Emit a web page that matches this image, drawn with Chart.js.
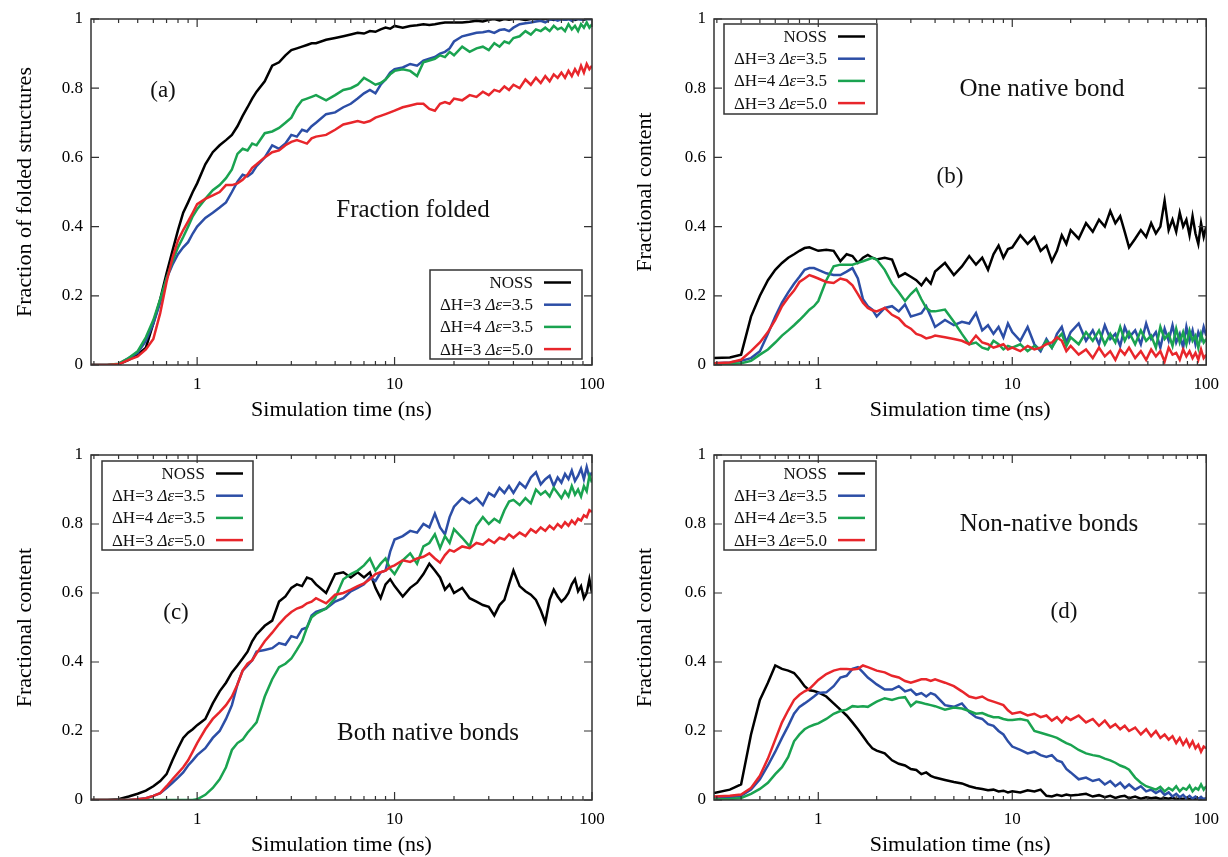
<!DOCTYPE html>
<html>
<head>
<meta charset="utf-8">
<title></title>
<style>
  body { margin: 0; background: #fff; }
  #wrap { position: relative; width: 1228px; height: 857px; background: #fff; }
  canvas { position: absolute; }
</style>
</head>
<body>
<div id="wrap">
  <canvas id="chartA" width="614" height="428" style="left:0;top:0"></canvas>
  <canvas id="chartB" width="614" height="428" style="left:614px;top:0"></canvas>
  <canvas id="chartC" width="614" height="429" style="left:0;top:428px"></canvas>
  <canvas id="chartD" width="614" height="429" style="left:614px;top:428px"></canvas>
</div>

<script src="https://cdn.jsdelivr.net/npm/chart.js"></script>

<script>
  // simulation time (ns), shared by all panels
  const times = [0.29,0.35,0.4,0.45,0.5,0.55,0.6,0.65,0.7,0.75,0.8,0.85,0.9,0.95,1.0,
    1.1,1.2,1.3,1.4,1.5,1.6,1.7,1.8,1.9,2.0,
    2.2,2.4,2.6,2.8,3.0,3.2,3.4,3.6,3.8,4.0,
    4.5,5,5.5,6,6.5,7,7.5,8,8.5,9,9.5,10,
    11,12,13,14,15,16,17,18,19,20,
    22,24,26,28,30,32,34,36,38,40,
    43,46,49,52,55,58,61,64,67,70,73,76,79,82,85,88,91,94,97,100];

  const seriesLabels = ['NOSS', 'ΔH=3 Δε=3.5', 'ΔH=4 Δε=3.5', 'ΔH=3 Δε=5.0'];
  const seriesColors = ['#000000', '#2c4ea6', '#1aa350', '#e8262b'];
  const xTickLabels = [1, 10, 100];
  const yTickLabels = [0, 0.2, 0.4, 0.6, 0.8, 1];

  // (a) fraction folded
  const foldedNoss = [0,0,0.002,0.015,0.03,0.05,0.12,0.19,0.265,0.33,0.39,0.44,0.47,0.50,0.525,
    0.58,0.615,0.635,0.65,0.665,0.69,0.72,0.745,0.77,0.79,
    0.82,0.865,0.875,0.895,0.91,0.915,0.92,0.925,0.93,0.93,
    0.94,0.945,0.95,0.955,0.96,0.958,0.965,0.963,0.97,0.975,0.972,0.98,
    0.975,0.98,0.982,0.985,0.983,0.985,0.988,0.99,0.99,0.99,
    0.99,0.992,0.995,0.993,0.998,1.0,0.996,1.0,0.998,1.0,
    1.0,0.997,1.0,1.0,0.998,1.0,1.0,0.997,1.0,1.0,0.998,1.0,1.0,0.997,1.0,1.0,0.998,1.0,1.0,1.0];
  const foldedH3e35 = [0,0,0.003,0.02,0.035,0.07,0.12,0.18,0.25,0.29,0.32,0.34,0.355,0.38,0.40,
    0.425,0.44,0.455,0.47,0.50,0.53,0.55,0.545,0.555,0.575,
    0.60,0.635,0.625,0.64,0.665,0.66,0.68,0.675,0.69,0.70,
    0.725,0.73,0.745,0.755,0.77,0.785,0.795,0.785,0.81,0.825,0.845,0.855,
    0.86,0.87,0.865,0.88,0.885,0.89,0.90,0.905,0.915,0.935,
    0.95,0.955,0.96,0.962,0.965,0.96,0.968,0.97,0.965,0.975,
    0.985,0.988,0.99,0.993,0.995,0.99,0.998,1.0,0.995,1.0,0.998,1.0,0.995,1.0,1.0,0.998,1.0,1.0,1.0,1.0];
  const foldedH4e35 = [0,0,0.004,0.02,0.04,0.08,0.13,0.19,0.25,0.30,0.34,0.37,0.40,0.43,0.45,
    0.48,0.505,0.52,0.54,0.565,0.61,0.625,0.62,0.64,0.635,
    0.67,0.675,0.685,0.70,0.715,0.745,0.765,0.77,0.775,0.78,
    0.765,0.78,0.795,0.80,0.81,0.83,0.82,0.81,0.815,0.825,0.84,0.85,
    0.855,0.85,0.835,0.875,0.88,0.885,0.895,0.89,0.905,0.895,
    0.92,0.905,0.915,0.92,0.91,0.93,0.92,0.935,0.93,0.945,
    0.95,0.965,0.955,0.97,0.965,0.975,0.965,0.98,0.97,0.975,0.965,0.985,0.97,0.98,0.965,0.985,0.975,0.99,0.975,0.985];
  const foldedH3e50 = [0,0,0.002,0.015,0.025,0.045,0.075,0.15,0.24,0.31,0.36,0.39,0.415,0.44,0.465,
    0.48,0.49,0.50,0.52,0.52,0.525,0.535,0.55,0.57,0.58,
    0.60,0.615,0.62,0.635,0.645,0.65,0.645,0.64,0.655,0.66,
    0.665,0.68,0.695,0.70,0.705,0.70,0.705,0.715,0.72,0.725,0.73,0.735,
    0.745,0.75,0.755,0.755,0.74,0.735,0.755,0.76,0.755,0.77,
    0.765,0.78,0.775,0.79,0.78,0.795,0.79,0.805,0.795,0.81,
    0.80,0.825,0.81,0.83,0.815,0.835,0.82,0.84,0.83,0.845,0.83,0.85,0.835,0.855,0.84,0.865,0.845,0.87,0.855,0.865];

  // (b) one native bond
  const oneNoss = [0.02,0.022,0.03,0.14,0.20,0.245,0.275,0.295,0.31,0.32,0.33,0.338,0.34,0.335,0.33,
    0.333,0.33,0.30,0.32,0.315,0.295,0.31,0.318,0.31,0.305,
    0.31,0.305,0.255,0.265,0.255,0.245,0.23,0.25,0.235,0.27,
    0.295,0.26,0.285,0.315,0.29,0.31,0.275,0.32,0.345,0.31,0.335,0.34,
    0.375,0.35,0.37,0.33,0.345,0.30,0.33,0.375,0.35,0.39,
    0.365,0.41,0.385,0.42,0.40,0.445,0.41,0.43,0.385,0.34,
    0.365,0.39,0.37,0.41,0.38,0.40,0.475,0.39,0.42,0.385,0.44,0.40,0.42,0.375,0.43,0.38,0.35,0.41,0.37,0.40];
  const oneH3e35 = [0.005,0.007,0.012,0.02,0.04,0.09,0.14,0.18,0.21,0.235,0.255,0.275,0.28,0.28,0.275,
    0.265,0.26,0.26,0.27,0.28,0.25,0.19,0.17,0.16,0.14,
    0.165,0.17,0.155,0.175,0.14,0.145,0.15,0.17,0.14,0.11,
    0.13,0.115,0.125,0.12,0.15,0.10,0.115,0.09,0.11,0.08,0.12,0.095,
    0.07,0.11,0.06,0.04,0.075,0.05,0.09,0.11,0.065,0.095,
    0.12,0.07,0.10,0.06,0.115,0.075,0.09,0.055,0.11,0.08,
    0.10,0.06,0.12,0.075,0.095,0.05,0.105,0.07,0.115,0.065,0.09,0.05,0.11,0.07,0.10,0.06,0.095,0.075,0.11,0.085];
  const oneH4e35 = [0.002,0.003,0.005,0.012,0.03,0.045,0.065,0.085,0.10,0.115,0.13,0.145,0.16,0.17,0.185,
    0.245,0.285,0.29,0.29,0.29,0.295,0.30,0.305,0.31,0.305,
    0.275,0.235,0.21,0.185,0.205,0.22,0.19,0.165,0.155,0.155,
    0.16,0.125,0.09,0.06,0.065,0.05,0.045,0.07,0.06,0.045,0.055,0.05,
    0.06,0.04,0.055,0.045,0.07,0.05,0.075,0.09,0.055,0.08,
    0.06,0.095,0.07,0.10,0.06,0.09,0.065,0.11,0.07,0.095,
    0.06,0.10,0.07,0.085,0.05,0.11,0.075,0.09,0.055,0.105,0.065,0.095,0.06,0.10,0.07,0.085,0.05,0.09,0.065,0.075];
  const oneH3e50 = [0.005,0.007,0.015,0.04,0.065,0.095,0.13,0.17,0.195,0.215,0.24,0.25,0.26,0.255,0.25,
    0.24,0.237,0.25,0.245,0.23,0.205,0.18,0.165,0.158,0.155,
    0.165,0.145,0.135,0.115,0.105,0.09,0.085,0.077,0.08,0.085,
    0.08,0.075,0.07,0.06,0.085,0.065,0.06,0.05,0.055,0.06,0.045,0.05,
    0.04,0.055,0.045,0.05,0.06,0.065,0.08,0.07,0.04,0.055,
    0.03,0.045,0.02,0.05,0.025,0.04,0.015,0.045,0.03,0.05,
    0.02,0.04,0.015,0.045,0.025,0.04,0.01,0.05,0.03,0.035,0.015,0.045,0.025,0.04,0.02,0.035,0.015,0.045,0.02,0.03];

  // (c) both native bonds
  const bothNoss = [0,0,0.002,0.01,0.018,0.027,0.04,0.055,0.075,0.115,0.15,0.18,0.195,0.205,0.217,
    0.235,0.28,0.315,0.34,0.37,0.39,0.41,0.43,0.46,0.48,
    0.505,0.52,0.575,0.59,0.615,0.625,0.62,0.645,0.64,0.625,
    0.60,0.655,0.66,0.645,0.66,0.645,0.66,0.615,0.585,0.625,0.64,0.62,
    0.59,0.615,0.63,0.655,0.685,0.665,0.645,0.61,0.625,0.60,
    0.615,0.585,0.575,0.565,0.56,0.535,0.565,0.58,0.625,0.665,
    0.62,0.605,0.595,0.58,0.55,0.515,0.58,0.61,0.59,0.575,0.585,0.60,0.625,0.64,0.605,0.62,0.585,0.60,0.64,0.60];
  const bothH3e35 = [0,0,0,0,0.002,0.005,0.012,0.02,0.035,0.05,0.065,0.08,0.10,0.115,0.13,
    0.15,0.18,0.20,0.235,0.275,0.335,0.375,0.39,0.405,0.43,
    0.435,0.44,0.455,0.45,0.475,0.47,0.495,0.50,0.535,0.545,
    0.555,0.575,0.585,0.605,0.615,0.625,0.645,0.635,0.66,0.665,0.72,0.755,
    0.765,0.78,0.775,0.80,0.79,0.83,0.79,0.77,0.82,0.85,
    0.875,0.86,0.875,0.855,0.89,0.88,0.905,0.89,0.91,0.89,
    0.92,0.905,0.935,0.95,0.915,0.93,0.94,0.91,0.935,0.92,0.945,0.93,0.955,0.925,0.94,0.96,0.93,0.965,0.935,0.95];
  const bothH4e35 = [0,0,0,0,0,0,0,0,0,0,0,0,0,0,0.002,
    0.015,0.035,0.06,0.095,0.145,0.165,0.175,0.195,0.21,0.225,
    0.30,0.35,0.385,0.395,0.41,0.435,0.46,0.50,0.53,0.54,
    0.555,0.585,0.64,0.655,0.665,0.68,0.70,0.665,0.685,0.70,0.67,0.655,
    0.695,0.715,0.685,0.735,0.745,0.77,0.73,0.765,0.745,0.785,
    0.76,0.735,0.795,0.82,0.80,0.815,0.805,0.84,0.865,0.87,
    0.855,0.875,0.86,0.90,0.885,0.895,0.88,0.905,0.89,0.875,0.895,0.88,0.91,0.885,0.90,0.88,0.91,0.895,0.94,0.92];
  const bothH3e50 = [0,0,0,0,0.002,0.005,0.012,0.02,0.04,0.06,0.078,0.095,0.115,0.14,0.165,
    0.205,0.235,0.255,0.275,0.30,0.335,0.375,0.395,0.405,0.425,
    0.46,0.485,0.51,0.53,0.545,0.555,0.56,0.57,0.575,0.585,
    0.57,0.595,0.60,0.61,0.62,0.628,0.64,0.655,0.66,0.665,0.675,0.68,
    0.695,0.69,0.70,0.705,0.715,0.70,0.688,0.71,0.725,0.72,
    0.735,0.73,0.745,0.74,0.755,0.745,0.76,0.755,0.77,0.76,
    0.775,0.765,0.785,0.775,0.79,0.78,0.795,0.785,0.80,0.79,0.805,0.795,0.81,0.80,0.815,0.81,0.825,0.82,0.84,0.835];

  // (d) non-native bonds
  const nonNoss = [0.02,0.03,0.045,0.19,0.29,0.34,0.39,0.38,0.375,0.368,0.35,0.33,0.318,0.316,0.312,
    0.30,0.28,0.262,0.245,0.225,0.205,0.185,0.165,0.15,0.143,
    0.135,0.115,0.105,0.10,0.09,0.087,0.075,0.08,0.07,0.065,
    0.058,0.052,0.048,0.04,0.035,0.032,0.028,0.03,0.025,0.027,0.022,0.025,
    0.022,0.028,0.025,0.03,0.012,0.01,0.015,0.012,0.016,0.013,
    0.015,0.018,0.01,0.014,0.008,0.012,0.006,0.01,0.012,0.005,
    0.01,0.004,0.008,0.005,0.007,0.003,0.006,0.004,0.007,0.002,0.005,0.003,0.006,0.001,0.004,0.002,0.005,0.001,0.003,0.002];
  const nonH3e35 = [0.005,0.007,0.012,0.03,0.06,0.10,0.14,0.18,0.215,0.25,0.27,0.28,0.29,0.30,0.31,
    0.312,0.33,0.355,0.36,0.38,0.385,0.37,0.355,0.345,0.335,
    0.32,0.32,0.33,0.315,0.32,0.305,0.31,0.30,0.31,0.305,
    0.275,0.27,0.28,0.255,0.24,0.235,0.22,0.215,0.20,0.19,0.17,0.155,
    0.145,0.135,0.14,0.13,0.125,0.13,0.115,0.11,0.09,0.08,
    0.06,0.065,0.055,0.06,0.045,0.055,0.04,0.05,0.035,0.045,
    0.03,0.04,0.025,0.03,0.02,0.028,0.015,0.022,0.01,0.018,0.008,0.015,0.005,0.012,0.004,0.01,0.003,0.009,0.002,0.006];
  const nonH4e35 = [0.002,0.003,0.006,0.018,0.032,0.05,0.075,0.095,0.125,0.17,0.19,0.205,0.213,0.218,0.222,
    0.235,0.25,0.258,0.262,0.272,0.27,0.272,0.27,0.278,0.285,
    0.295,0.29,0.296,0.298,0.272,0.285,0.282,0.278,0.275,0.272,
    0.262,0.268,0.265,0.258,0.25,0.252,0.245,0.24,0.24,0.235,0.232,0.232,
    0.235,0.23,0.20,0.195,0.19,0.185,0.18,0.172,0.165,0.16,
    0.145,0.135,0.13,0.127,0.12,0.115,0.108,0.10,0.095,0.088,
    0.065,0.05,0.04,0.035,0.03,0.038,0.025,0.035,0.028,0.04,0.025,0.035,0.03,0.042,0.025,0.035,0.03,0.045,0.03,0.04];
  const nonH3e50 = [0.01,0.012,0.016,0.035,0.07,0.12,0.175,0.225,0.26,0.29,0.305,0.315,0.322,0.335,0.348,
    0.365,0.375,0.38,0.38,0.378,0.38,0.39,0.385,0.38,0.375,
    0.37,0.36,0.355,0.345,0.34,0.345,0.35,0.35,0.345,0.35,
    0.34,0.33,0.315,0.30,0.295,0.30,0.29,0.285,0.28,0.275,0.26,0.25,
    0.255,0.245,0.25,0.24,0.245,0.23,0.24,0.225,0.24,0.232,
    0.245,0.225,0.235,0.215,0.23,0.21,0.22,0.205,0.215,0.20,
    0.21,0.19,0.205,0.185,0.20,0.18,0.19,0.175,0.185,0.165,0.18,0.16,0.175,0.155,0.17,0.15,0.16,0.14,0.155,0.15];

  const serif = "'Liberation Serif', 'Times New Roman', serif";

  function sameValue(a, b) { return Math.abs(a - b) < 1e-9 * Math.max(1, b); }

  // legend text: the Δε part is italic
  function drawLabel(ctx, text, xRight, y) {
    const k = text.indexOf('Δε');
    const parts = k < 0 ? [[text, false]] : [[text.slice(0, k), false], ['Δε', true], [text.slice(k + 2), false]];
    let w = 0;
    parts.forEach(([s, it]) => { ctx.font = (it ? 'italic ' : '') + '17px ' + serif; w += ctx.measureText(s).width; });
    let x = xRight - w;
    ctx.textAlign = 'left';
    parts.forEach(([s, it]) => {
      ctx.font = (it ? 'italic ' : '') + '17px ' + serif;
      ctx.fillText(s, x, y);
      x += ctx.measureText(s).width;
    });
  }

  // frame, inward ticks, notes and boxed legend
  function decor(texts, box) {
    return {
      id: 'decor',
      afterDraw(chart) {
        const {ctx, chartArea: a, scales: {x, y}} = chart;
        ctx.save();
        ctx.strokeStyle = '#333';
        ctx.lineWidth = 1.2;
        ctx.beginPath();
        x.ticks.forEach(t => {
          const v = t.value;
          const e = Math.floor(Math.log10(v) + 1e-9);
          const d = v / Math.pow(10, e);
          if (Math.abs(d - Math.round(d)) > 1e-6) return;
          const len = Math.round(d) === 1 ? 8 : 4;
          const px = x.getPixelForValue(v);
          ctx.moveTo(px, a.bottom); ctx.lineTo(px, a.bottom - len);
          ctx.moveTo(px, a.top); ctx.lineTo(px, a.top + len);
        });
        yTickLabels.forEach(v => {
          const py = y.getPixelForValue(v);
          ctx.moveTo(a.left, py); ctx.lineTo(a.left + 8, py);
          ctx.moveTo(a.right, py); ctx.lineTo(a.right - 8, py);
        });
        ctx.stroke();
        ctx.lineWidth = 1.5;
        ctx.strokeRect(a.left, a.top, a.right - a.left, a.bottom - a.top);

        ctx.fillStyle = '#111';
        ctx.textAlign = 'center';
        ctx.textBaseline = 'middle';
        texts.forEach(t => {
          ctx.font = t.size + 'px ' + serif;
          ctx.fillText(t.text, t.x, t.y);
        });

        ctx.strokeStyle = '#333';
        ctx.lineWidth = 1.5;
        ctx.strokeRect(box.x, box.y, box.w, box.h);
        chart.data.datasets.forEach((ds, i) => {
          const ry = box.y + 12.5 + i * 22.2;
          ctx.fillStyle = '#111';
          drawLabel(ctx, ds.label, box.x + 103, ry + 1);
          ctx.strokeStyle = ds.borderColor;
          ctx.lineWidth = 2.5;
          ctx.beginPath();
          ctx.moveTo(box.x + 114, ry); ctx.lineTo(box.x + 141, ry);
          ctx.stroke();
        });
        ctx.restore();
      }
    };
  }

  function buildPanel(id, values, yTitle, lay, texts) {
    const datasets = values.map((vals, i) => ({
      label: seriesLabels[i],
      data: times.map((t, k) => ({x: t, y: vals[k]})),
      borderColor: seriesColors[i],
      borderWidth: 2.5,
      pointRadius: 0,
      tension: 0,
      order: values.length - i
    }));
    new Chart(document.getElementById(id), {
      type: 'line',
      data: { datasets: datasets },
      options: {
        responsive: false,
        animation: false,
        layout: { padding: { left: 0, top: lay.top, right: lay.right, bottom: 0 } },
        plugins: { legend: { display: false }, tooltip: { enabled: false } },
        scales: {
          x: {
            type: 'logarithmic', min: 0.29, max: 100,
            afterFit: s => { s.height = lay.xh; },
            grid: { display: false, drawTicks: false, tickLength: 0 },
            border: { display: false },
            ticks: {
              autoSkip: false, maxRotation: 0, padding: 9, color: '#000',
              font: { family: serif, size: 17 },
              callback: v => xTickLabels.some(m => sameValue(v, m)) ? String(Math.round(v)) : ''
            },
            title: { display: true, text: 'Simulation time (ns)', color: '#000',
              font: { family: serif, size: 22, lineHeight: 1 }, padding: { top: 0, bottom: lay.xtb } }
          },
          y: {
            min: 0, max: 1,
            afterFit: s => { s.width = lay.yw; },
            grid: { display: false, drawTicks: false, tickLength: 0 },
            border: { display: false },
            ticks: {
              stepSize: 0.2, padding: 8, color: '#000',
              font: { family: serif, size: 17 },
              callback: v => String(Math.round(v * 10) / 10)
            },
            title: { display: true, text: yTitle, color: '#000',
              font: { family: serif, size: 22, lineHeight: 1 }, padding: { top: lay.ytp, bottom: 0 } }
          }
        }
      },
      plugins: [decor(texts, lay.box)]
    });
  }

  buildPanel('chartA', [foldedNoss, foldedH3e35, foldedH4e35, foldedH3e50], 'Fraction of folded structures',
    { top: 19, right: 22, xh: 63, yw: 91, xtb: 7, ytp: 14, box: { x: 430, y: 270, w: 152, h: 89 } },
    [{ text: '(a)', x: 163, y: 91, size: 23 }, { text: 'Fraction folded', x: 413, y: 210, size: 25 }]);

  buildPanel('chartB', [oneNoss, oneH3e35, oneH4e35, oneH3e50], 'Fractional content',
    { top: 19, right: 15, xh: 63, yw: 100, xtb: 7, ytp: 20, box: { x: 110, y: 24, w: 153, h: 90 } },
    [{ text: 'One native bond', x: 428, y: 89, size: 25 }, { text: '(b)', x: 336, y: 177, size: 23 }]);

  buildPanel('chartC', [bothNoss, bothH3e35, bothH4e35, bothH3e50], 'Fractional content',
    { top: 27, right: 22, xh: 57, yw: 91, xtb: 1, ytp: 14, box: { x: 102, y: 33, w: 151, h: 89 } },
    [{ text: '(c)', x: 176, y: 185, size: 23 }, { text: 'Both native bonds', x: 428, y: 305, size: 25 }]);

  buildPanel('chartD', [nonNoss, nonH3e35, nonH4e35, nonH3e50], 'Fractional content',
    { top: 27, right: 15, xh: 57, yw: 100, xtb: 1, ytp: 20, box: { x: 110, y: 33, w: 152, h: 89 } },
    [{ text: 'Non-native bonds', x: 435, y: 96, size: 25 }, { text: '(d)', x: 450, y: 184, size: 23 }]);
</script>
</body>
</html>
